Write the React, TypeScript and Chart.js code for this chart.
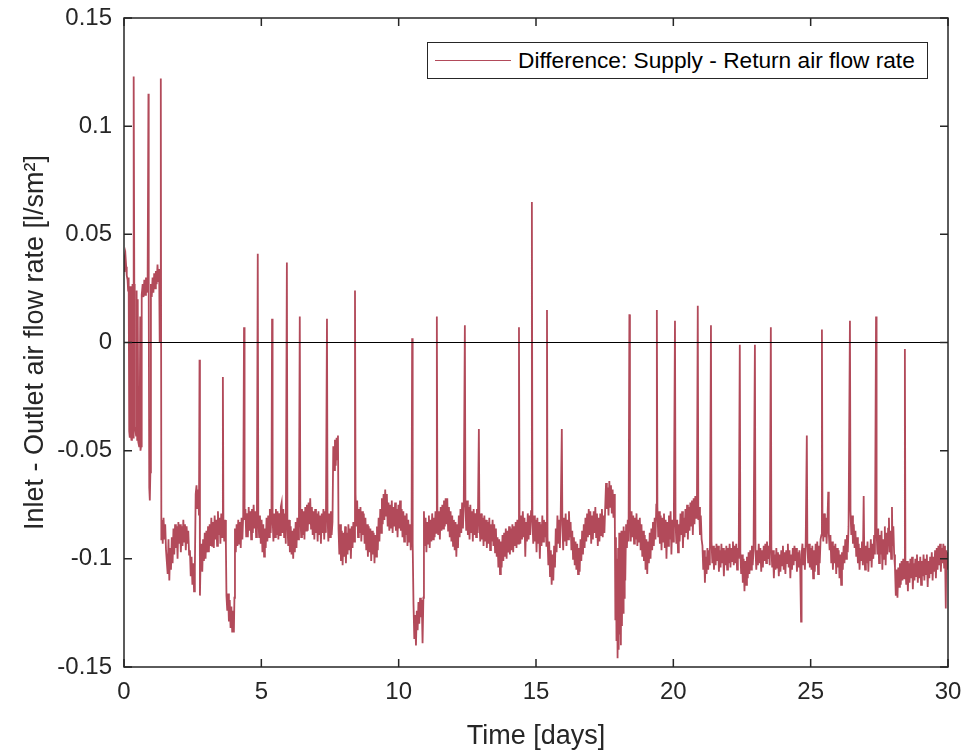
import React, { useEffect, useRef } from "react";
import { Chart, registerables } from "chart.js";

Chart.register(...registerables);

// ---------- data (time in days, value in l/(s·m²)) ----------
const seriesLabel = "Difference: Supply - Return air flow rate";
const xAxisTitle = "Time [days]";
const yAxisTitle = "Inlet - Outlet air flow rate [l/sm²]";

const xMin = 0;
const xMax = 30;
const xStep = 5;
const yMin = -0.15;
const yMax = 0.15;
const yStep = 0.05;

const zeroLine: [number, number][] = [[0, 0], [30, 0]];

const daysEarly: [number, number][] = [
  [0.00,0.033],[0.02,0.039],[0.05,0.041],[0.08,0.035],[0.10,0.031],[0.13,0.029],[0.15,0.024],[0.17,0.030],
  [0.19,-0.041],[0.21,-0.044],[0.23,0.026],[0.25,-0.043],[0.27,-0.045],[0.29,-0.042],[0.31,0.027],[0.33,-0.044],
  [0.345,0.029],[0.36,0.123],[0.375,0.027],[0.39,-0.039],[0.42,-0.041],[0.44,-0.043],[0.46,0.024],[0.48,-0.045],
  [0.50,0.020],[0.52,-0.046],[0.55,-0.048],[0.57,-0.045],[0.59,0.012],[0.60,-0.050],[0.62,-0.048],[0.64,-0.047],
  [0.65,0.022],[0.68,0.027],[0.71,0.021],[0.74,0.029],[0.77,0.022],[0.80,0.030],[0.83,0.023],[0.86,0.028],
  [0.89,0.115],[0.90,0.024],[0.92,-0.067],[0.94,-0.073],[0.96,-0.060],[0.98,0.027],[1.01,0.021],[1.04,0.030],
  [1.07,0.023],[1.10,0.032],[1.13,0.025],[1.16,0.033],[1.19,0.027],[1.22,0.036],[1.25,0.028],[1.28,0.034],
  [1.30,0.000],[1.32,0.030],[1.34,0.122],[1.36,-0.091]
];

const days1to5: [number, number][] = [
  [1.38,-0.082],[1.41,-0.093],[1.44,-0.081],[1.47,-0.091],[1.50,-0.084],[1.53,-0.096],[1.56,-0.096],[1.59,-0.107],
  [1.62,-0.091],[1.65,-0.110],[1.68,-0.095],[1.71,-0.105],[1.74,-0.090],[1.77,-0.102],[1.80,-0.086],[1.83,-0.098],
  [1.86,-0.084],[1.89,-0.095],[1.92,-0.085],[1.95,-0.100],[1.98,-0.083],[2.01,-0.093],[2.04,-0.084],[2.07,-0.097],
  [2.10,-0.085],[2.13,-0.094],[2.16,-0.082],[2.19,-0.092],[2.22,-0.084],[2.25,-0.096],[2.28,-0.085],[2.31,-0.093],
  [2.34,-0.087],[2.37,-0.098],[2.40,-0.096],[2.43,-0.108],[2.46,-0.099],[2.49,-0.112],[2.52,-0.102],[2.55,-0.115],
  [2.58,-0.104],[2.61,-0.070],[2.64,-0.066],[2.67,-0.077],[2.70,-0.068],[2.73,-0.080],[2.75,-0.008],[2.765,-0.117],
  [2.79,-0.099],[2.82,-0.093],[2.85,-0.106],[2.88,-0.091],[2.91,-0.101],[2.94,-0.088],[2.97,-0.100],[3.00,-0.087],
  [3.03,-0.097],[3.06,-0.085],[3.09,-0.097],[3.12,-0.084],[3.15,-0.094],[3.18,-0.081],[3.21,-0.094],[3.24,-0.083],
  [3.27,-0.095],[3.30,-0.080],[3.33,-0.091],[3.36,-0.082],[3.39,-0.094],[3.42,-0.078],[3.45,-0.089],[3.48,-0.081],
  [3.51,-0.093],[3.54,-0.079],[3.57,-0.090],[3.60,-0.016],[3.62,-0.084],[3.65,-0.092],[3.68,-0.082],[3.71,-0.094],
  [3.73,-0.117],[3.76,-0.124],[3.79,-0.116],[3.82,-0.129],[3.85,-0.119],[3.88,-0.132],[3.91,-0.122],[3.94,-0.134],
  [3.97,-0.124],[4.00,-0.134],[4.02,-0.118],[4.04,-0.086],[4.07,-0.097],[4.10,-0.084],[4.13,-0.094],[4.16,-0.082],
  [4.19,-0.093],[4.22,-0.083],[4.25,-0.095],[4.28,-0.081],[4.31,-0.091],[4.34,-0.080],[4.37,0.007],[4.39,-0.082],
  [4.42,-0.077],[4.45,-0.090],[4.48,-0.079],[4.51,-0.090],[4.54,-0.076],[4.57,-0.087],[4.60,-0.078],[4.63,-0.091],
  [4.66,-0.077],[4.69,-0.088],[4.72,-0.075],[4.75,-0.086],[4.78,-0.078],[4.81,-0.090],[4.84,-0.077],[4.87,0.041],
  [4.89,-0.081],[4.92,-0.090],[4.95,-0.080],[4.98,-0.093]
];

const days5to10: [number, number][] = [
  [5.01,-0.082],[5.04,-0.097],[5.07,-0.084],[5.10,-0.099],[5.13,-0.086],[5.16,-0.095],[5.19,-0.081],[5.22,-0.092],
  [5.25,-0.080],[5.28,-0.090],[5.31,-0.077],[5.34,-0.088],[5.37,-0.078],[5.39,0.011],[5.41,-0.081],[5.44,-0.092],
  [5.47,-0.079],[5.50,-0.090],[5.53,-0.077],[5.56,-0.089],[5.59,-0.078],[5.62,-0.091],[5.65,-0.079],[5.68,-0.089],
  [5.71,-0.076],[5.74,-0.074],[5.77,-0.088],[5.80,-0.077],[5.83,-0.090],[5.86,-0.079],[5.89,-0.093],[5.93,0.037],
  [5.95,-0.084],[5.98,-0.094],[6.01,-0.082],[6.04,-0.097],[6.07,-0.085],[6.10,-0.098],[6.13,-0.087],[6.16,-0.100],
  [6.19,-0.086],[6.22,-0.097],[6.25,-0.083],[6.28,-0.095],[6.31,-0.081],[6.34,-0.091],[6.37,-0.080],[6.40,0.012],
  [6.42,-0.079],[6.45,-0.090],[6.48,-0.077],[6.51,-0.089],[6.54,-0.078],[6.57,-0.091],[6.60,-0.076],[6.63,-0.087],
  [6.66,-0.075],[6.69,-0.087],[6.72,-0.074],[6.75,-0.084],[6.78,-0.072],[6.81,-0.086],[6.84,-0.076],[6.87,-0.089],
  [6.90,-0.078],[6.93,-0.091],[6.96,-0.077],[6.99,-0.088],[7.02,-0.079],[7.05,-0.092],[7.08,-0.078],[7.11,-0.089],
  [7.14,-0.080],[7.17,-0.093],[7.20,-0.079],[7.23,-0.088],[7.26,-0.077],[7.29,-0.091],[7.32,-0.078],[7.35,-0.088],
  [7.39,0.011],[7.41,-0.080],[7.44,-0.092],[7.47,-0.079],[7.50,-0.090],[7.53,-0.078],[7.56,-0.089],[7.59,-0.083],
  [7.62,-0.048],[7.65,-0.059],[7.68,-0.045],[7.71,-0.057],[7.74,-0.044],[7.77,-0.054],[7.79,-0.043],[7.81,-0.086],
  [7.84,-0.098],[7.87,-0.084],[7.90,-0.101],[7.93,-0.087],[7.96,-0.103],[7.99,-0.088],[8.02,-0.099],[8.05,-0.085],
  [8.08,-0.102],[8.11,-0.088],[8.14,-0.098],[8.17,-0.084],[8.20,-0.096],[8.23,-0.086],[8.26,-0.100],[8.29,-0.085],
  [8.32,-0.095],[8.35,-0.083],[8.38,-0.092],[8.41,0.024],[8.43,-0.070],[8.46,-0.085],[8.49,-0.073],[8.52,-0.090],
  [8.55,-0.077],[8.58,-0.088],[8.61,-0.076],[8.64,-0.092],[8.67,-0.078],[8.70,-0.089],[8.73,-0.079],[8.76,-0.093],
  [8.79,-0.081],[8.82,-0.096],[8.85,-0.084],[8.88,-0.099],[8.91,-0.085],[8.94,-0.097],[8.97,-0.086],[9.00,-0.101],
  [9.03,-0.087],[9.06,-0.098],[9.09,-0.088],[9.12,-0.102],[9.15,-0.089],[9.18,-0.099],[9.21,-0.085],[9.24,-0.096],
  [9.27,-0.081],[9.30,-0.092],[9.33,-0.077],[9.36,-0.088],[9.39,-0.072],[9.42,-0.084],[9.45,-0.070],[9.48,-0.082],
  [9.51,-0.068],[9.54,-0.080],[9.57,-0.070],[9.60,-0.085],[9.63,-0.074],[9.66,-0.087],[9.69,-0.075],[9.72,-0.086],
  [9.75,-0.073],[9.78,-0.088],[9.81,-0.076],[9.84,-0.085],[9.87,-0.074],[9.90,-0.087],[9.93,-0.077],[9.96,-0.090],
  [9.99,-0.075],[10.02,-0.086],[10.05,-0.073],[10.08,-0.087],[10.11,-0.077],[10.14,-0.090],[10.17,-0.078],[10.20,-0.092],
  [10.23,-0.080],[10.26,-0.089],[10.29,-0.079],[10.32,-0.094],[10.35,-0.082],[10.38,-0.092],[10.41,-0.084],[10.44,-0.096],
  [10.47,-0.086]
];

const days10to15: [number, number][] = [
  [10.49,0.002],[10.51,-0.093],[10.54,-0.121],[10.57,-0.137],[10.60,-0.126],[10.63,-0.140],[10.66,-0.124],[10.69,-0.133],
  [10.72,-0.120],[10.75,-0.130],[10.78,-0.118],[10.81,-0.127],[10.84,-0.119],[10.87,-0.139],[10.90,-0.118],[10.92,-0.078],
  [10.95,-0.094],[10.98,-0.081],[11.01,-0.097],[11.04,-0.083],[11.07,-0.093],[11.10,-0.080],[11.13,-0.095],[11.16,-0.082],
  [11.19,-0.092],[11.22,-0.079],[11.25,-0.091],[11.28,-0.081],[11.31,-0.090],[11.34,-0.078],[11.37,-0.088],[11.39,0.012],
  [11.41,-0.077],[11.44,-0.089],[11.47,-0.078],[11.50,-0.091],[11.53,-0.076],[11.56,-0.087],[11.59,-0.075],[11.62,-0.086],
  [11.65,-0.073],[11.68,-0.085],[11.71,-0.072],[11.74,-0.084],[11.77,-0.072],[11.80,-0.087],[11.83,-0.076],[11.86,-0.090],
  [11.89,-0.078],[11.92,-0.092],[11.95,-0.080],[11.98,-0.094],[12.01,-0.082],[12.04,-0.096],[12.07,-0.083],[12.10,-0.099],
  [12.13,-0.084],[12.16,-0.095],[12.19,-0.080],[12.22,-0.090],[12.25,-0.077],[12.28,-0.088],[12.31,-0.074],[12.34,-0.086],
  [12.37,-0.075],[12.41,0.008],[12.43,-0.074],[12.46,-0.087],[12.49,-0.073],[12.52,-0.089],[12.55,-0.076],[12.58,-0.091],
  [12.61,-0.075],[12.64,-0.088],[12.67,-0.078],[12.70,-0.092],[12.73,-0.077],[12.76,-0.089],[12.79,-0.079],[12.82,-0.090],
  [12.85,-0.077],[12.88,-0.088],[12.92,-0.040],[12.94,-0.082],[12.97,-0.092],[13.00,-0.079],[13.03,-0.091],[13.06,-0.081],
  [13.09,-0.094],[13.12,-0.080],[13.15,-0.092],[13.18,-0.082],[13.21,-0.095],[13.24,-0.083],[13.27,-0.093],[13.30,-0.081],
  [13.33,-0.096],[13.36,-0.084],[13.39,-0.092],[13.42,-0.082],[13.45,-0.094],[13.48,-0.084],[13.51,-0.097],[13.54,-0.086],
  [13.57,-0.099],[13.60,-0.090],[13.63,-0.104],[13.66,-0.091],[13.69,-0.107],[13.72,-0.092],[13.75,-0.104],[13.78,-0.089],
  [13.81,-0.101],[13.84,-0.088],[13.87,-0.099],[13.90,-0.086],[13.93,-0.100],[13.96,-0.087],[13.99,-0.097],[14.02,-0.085],
  [14.05,-0.098],[14.08,-0.086],[14.11,-0.096],[14.14,-0.084],[14.17,-0.097],[14.20,-0.085],[14.23,-0.094],[14.26,-0.083],
  [14.29,-0.095],[14.32,-0.082],[14.35,-0.093],[14.38,0.007],[14.40,-0.081],[14.43,-0.093],[14.46,-0.080],[14.49,-0.091],
  [14.52,-0.078],[14.55,-0.090],[14.58,-0.081],[14.61,-0.099],[14.64,-0.083],[14.67,-0.092],[14.70,-0.079],[14.73,-0.091],
  [14.76,-0.080],[14.79,-0.089],[14.82,-0.078],[14.85,0.065],[14.87,-0.082],[14.90,-0.093],[14.93,-0.080],[14.96,-0.092],
  [14.99,-0.082],[15.02,-0.097],[15.05,-0.081],[15.08,-0.093],[15.11,-0.083],[15.14,-0.100],[15.17,-0.084],[15.20,-0.094],
  [15.23,-0.080],[15.26,-0.092],[15.29,-0.082],[15.32,-0.090]
];

const days15to20: [number, number][] = [
  [15.35,-0.083],[15.38,-0.094],[15.40,0.015],[15.42,-0.090],[15.45,-0.103],[15.48,-0.092],[15.51,-0.108],[15.54,-0.096],
  [15.57,-0.112],[15.60,-0.098],[15.63,-0.110],[15.66,-0.094],[15.69,-0.104],[15.72,-0.086],[15.75,-0.097],[15.78,-0.080],
  [15.81,-0.093],[15.84,-0.082],[15.87,-0.095],[15.90,-0.079],[15.94,-0.040],[15.96,-0.084],[15.99,-0.096],[16.02,-0.081],
  [16.05,-0.092],[16.08,-0.079],[16.11,-0.094],[16.14,-0.082],[16.17,-0.091],[16.20,-0.078],[16.23,-0.090],[16.26,-0.083],
  [16.29,-0.096],[16.32,-0.087],[16.35,-0.100],[16.38,-0.090],[16.41,-0.103],[16.44,-0.092],[16.47,-0.105],[16.50,-0.093],
  [16.53,-0.107],[16.56,-0.095],[16.59,-0.106],[16.62,-0.091],[16.65,-0.101],[16.68,-0.087],[16.71,-0.098],[16.74,-0.084],
  [16.77,-0.095],[16.80,-0.081],[16.83,-0.092],[16.86,-0.079],[16.89,-0.090],[16.92,-0.077],[16.95,-0.089],[16.98,-0.078],
  [17.01,-0.093],[17.04,-0.080],[17.07,-0.091],[17.10,-0.078],[17.13,-0.088],[17.16,-0.076],[17.19,-0.090],[17.22,-0.079],
  [17.25,-0.094],[17.28,-0.081],[17.31,-0.092],[17.34,-0.079],[17.37,-0.089],[17.40,-0.077],[17.43,-0.090],[17.46,-0.080],
  [17.49,-0.088],[17.52,-0.076],[17.55,-0.065],[17.58,-0.077],[17.61,-0.067],[17.64,-0.080],[17.67,-0.064],[17.70,-0.076],
  [17.73,-0.066],[17.76,-0.079],[17.79,-0.068],[17.82,-0.081],[17.85,-0.070],[17.87,-0.082],[17.89,-0.128],[17.91,-0.090],
  [17.93,-0.138],[17.95,-0.100],[17.97,-0.146],[17.99,-0.095],[18.01,-0.142],[18.03,-0.088],[18.05,-0.135],[18.07,-0.092],
  [18.09,-0.140],[18.11,-0.087],[18.13,-0.131],[18.15,-0.090],[18.17,-0.125],[18.19,-0.085],[18.21,-0.118],[18.23,-0.087],
  [18.25,-0.110],[18.28,-0.084],[18.31,-0.095],[18.34,-0.082],[18.37,-0.092],[18.40,0.013],[18.42,-0.080],[18.45,-0.092],
  [18.48,-0.078],[18.51,-0.090],[18.54,-0.080],[18.57,-0.093],[18.60,-0.081],[18.63,-0.091],[18.66,-0.079],[18.69,-0.094],
  [18.72,-0.082],[18.75,-0.092],[18.78,-0.081],[18.81,-0.096],[18.84,-0.084],[18.87,-0.099],[18.90,-0.087],[18.93,-0.101],
  [18.96,-0.089],[18.99,-0.105],[19.02,-0.091],[19.05,-0.107],[19.08,-0.092],[19.11,-0.102],[19.14,-0.088],[19.17,-0.100],
  [19.20,-0.086],[19.23,-0.096],[19.26,-0.083],[19.29,-0.094],[19.32,-0.081],[19.35,-0.091],[19.38,-0.075],[19.40,0.015],
  [19.42,-0.076],[19.45,-0.090],[19.48,-0.078],[19.51,-0.093],[19.54,-0.080],[19.57,-0.096],[19.60,-0.081],[19.63,-0.092],
  [19.66,-0.079],[19.69,-0.095],[19.72,-0.082],[19.75,-0.100],[19.78,-0.083],[19.81,-0.094],[19.84,-0.080],[19.87,-0.091],
  [19.90,-0.078],[19.93,-0.098],[19.96,-0.082],[19.99,-0.092],[20.02,-0.079],[20.06,0.010],[20.08,-0.083]
];

const days20to25: [number, number][] = [
  [20.11,-0.093],[20.14,-0.082],[20.17,-0.097],[20.20,-0.084],[20.23,-0.092],[20.26,-0.079],[20.29,-0.089],[20.32,-0.078],
  [20.35,-0.095],[20.38,-0.081],[20.41,-0.090],[20.44,-0.077],[20.47,-0.088],[20.50,-0.075],[20.53,-0.091],[20.56,-0.076],
  [20.59,-0.087],[20.62,-0.074],[20.65,-0.085],[20.68,-0.073],[20.71,-0.089],[20.74,-0.072],[20.77,-0.084],[20.80,-0.071],
  [20.83,-0.081],[20.86,-0.073],[20.89,0.017],[20.91,-0.082],[20.94,-0.076],[20.97,-0.089],[21.00,-0.080],[21.03,-0.091],
  [21.06,-0.094],[21.09,-0.105],[21.12,-0.096],[21.15,-0.111],[21.18,-0.099],[21.21,-0.107],[21.24,-0.095],[21.27,-0.105],
  [21.30,-0.096],[21.33,-0.103],[21.37,0.008],[21.39,-0.092],[21.42,-0.102],[21.45,-0.094],[21.48,-0.105],[21.51,-0.095],
  [21.54,-0.103],[21.57,-0.093],[21.60,-0.101],[21.63,-0.094],[21.66,-0.106],[21.69,-0.096],[21.72,-0.104],[21.75,-0.093],
  [21.78,-0.102],[21.81,-0.095],[21.84,-0.108],[21.87,-0.096],[21.90,-0.103],[21.93,-0.094],[21.96,-0.105],[21.99,-0.095],
  [22.02,-0.102],[22.05,-0.093],[22.08,-0.104],[22.11,-0.095],[22.14,-0.101],[22.17,-0.092],[22.20,-0.103],[22.23,-0.094],
  [22.26,-0.102],[22.29,-0.093],[22.32,-0.105],[22.35,-0.095],[22.38,-0.100],[22.42,-0.001],[22.44,-0.097],[22.47,-0.107],
  [22.50,-0.098],[22.53,-0.111],[22.56,-0.100],[22.59,-0.115],[22.62,-0.101],[22.65,-0.112],[22.68,-0.099],[22.71,-0.109],
  [22.74,-0.097],[22.77,-0.107],[22.80,-0.096],[22.83,-0.105],[22.86,-0.094],[22.89,-0.103],[22.92,-0.096],[22.97,-0.001],
  [22.99,-0.095],[23.02,-0.105],[23.05,-0.096],[23.08,-0.103],[23.11,-0.093],[23.14,-0.102],[23.17,-0.095],[23.20,-0.106],
  [23.23,-0.096],[23.26,-0.104],[23.29,-0.094],[23.32,-0.101],[23.35,-0.093],[23.38,-0.102],[23.41,-0.092],[23.44,-0.100],
  [23.47,-0.094],[23.51,-0.103],[23.55,0.007],[23.57,-0.095],[23.60,-0.104],[23.63,-0.096],[23.66,-0.109],[23.69,-0.098],
  [23.72,-0.105],[23.75,-0.095],[23.78,-0.104],[23.81,-0.097],[23.84,-0.108],[23.87,-0.098],[23.90,-0.106],[23.93,-0.096],
  [23.96,-0.103],[23.99,-0.094],[24.02,-0.105],[24.05,-0.097],[24.08,-0.107],[24.11,-0.096],[24.14,-0.102],[24.17,-0.093],
  [24.20,-0.104],[24.23,-0.096],[24.26,-0.109],[24.29,-0.098],[24.32,-0.105],[24.35,-0.095],[24.38,-0.103],[24.41,-0.094],
  [24.44,-0.101],[24.47,-0.095],[24.50,-0.106],[24.53,-0.097],[24.56,-0.104],[24.59,-0.096],[24.62,-0.105],[24.65,-0.129],
  [24.67,-0.098],[24.70,-0.093],[24.73,-0.103],[24.76,-0.095],[24.79,-0.105],[24.82,-0.092],[24.86,-0.043],[24.88,-0.094],
  [24.91,-0.102],[24.94,-0.093],[24.97,-0.104],[25.00,-0.095]
];

const days25to30: [number, number][] = [
  [25.03,-0.105],[25.06,-0.094],[25.09,-0.109],[25.12,-0.096],[25.15,-0.106],[25.18,-0.093],[25.21,-0.103],[25.24,-0.092],
  [25.27,-0.107],[25.30,-0.094],[25.33,-0.102],[25.36,-0.091],[25.39,-0.089],[25.41,0.006],[25.43,-0.082],[25.46,-0.092],
  [25.49,-0.079],[25.52,-0.090],[25.55,-0.081],[25.58,-0.093],[25.61,-0.083],[25.64,-0.069],[25.66,-0.088],[25.69,-0.096],
  [25.72,-0.089],[25.75,-0.102],[25.78,-0.092],[25.81,-0.105],[25.84,-0.094],[25.87,-0.102],[25.90,-0.093],[25.93,-0.107],
  [25.96,-0.095],[25.99,-0.104],[26.02,-0.096],[26.05,-0.109],[26.08,-0.098],[26.11,-0.112],[26.14,-0.097],[26.17,-0.105],
  [26.20,-0.094],[26.23,-0.102],[26.26,-0.091],[26.29,-0.100],[26.32,-0.089],[26.35,-0.097],[26.38,-0.085],[26.43,0.010],
  [26.45,-0.078],[26.48,-0.089],[26.51,-0.080],[26.54,-0.093],[26.57,-0.084],[26.60,-0.095],[26.63,-0.087],[26.66,-0.099],
  [26.69,-0.090],[26.72,-0.102],[26.75,-0.093],[26.78,-0.105],[26.81,-0.095],[26.84,-0.101],[26.87,-0.092],[26.90,-0.103],
  [26.93,-0.071],[26.95,-0.097],[26.98,-0.105],[27.01,-0.094],[27.04,-0.102],[27.07,-0.092],[27.10,-0.106],[27.13,-0.095],
  [27.16,-0.101],[27.19,-0.091],[27.22,-0.104],[27.25,-0.093],[27.28,-0.100],[27.31,-0.089],[27.34,-0.098],[27.38,0.012],
  [27.40,-0.087],[27.43,-0.098],[27.46,-0.086],[27.49,-0.102],[27.52,-0.089],[27.55,-0.098],[27.58,-0.087],[27.61,-0.105],
  [27.64,-0.091],[27.67,-0.100],[27.70,-0.085],[27.73,-0.103],[27.76,-0.088],[27.79,-0.098],[27.82,-0.086],[27.85,-0.081],
  [27.87,-0.097],[27.90,-0.087],[27.93,-0.100],[27.96,-0.076],[27.98,-0.094],[28.01,-0.085],[28.04,-0.098],[28.07,-0.104],
  [28.10,-0.117],[28.13,-0.105],[28.16,-0.118],[28.19,-0.104],[28.22,-0.113],[28.25,-0.102],[28.28,-0.112],[28.31,-0.101],
  [28.34,-0.110],[28.37,-0.100],[28.40,-0.109],[28.43,-0.003],[28.45,-0.103],[28.48,-0.112],[28.51,-0.101],[28.54,-0.115],
  [28.57,-0.102],[28.60,-0.111],[28.63,-0.100],[28.66,-0.109],[28.69,-0.099],[28.72,-0.114],[28.75,-0.102],[28.78,-0.110],
  [28.81,-0.100],[28.84,-0.108],[28.87,-0.098],[28.90,-0.111],[28.93,-0.101],[28.96,-0.109],[28.99,-0.099],[29.02,-0.112],
  [29.05,-0.101],[29.08,-0.108],[29.11,-0.098],[29.14,-0.110],[29.17,-0.100],[29.20,-0.107],[29.23,-0.098],[29.26,-0.113],
  [29.29,-0.101],[29.32,-0.109],[29.35,-0.099],[29.38,-0.107],[29.41,-0.097],[29.44,-0.110],[29.47,-0.099],[29.50,-0.106],
  [29.53,-0.096],[29.56,-0.109],[29.59,-0.095],[29.62,-0.105],[29.65,-0.094],[29.68,-0.103],[29.71,-0.093],[29.74,-0.106],
  [29.77,-0.095],[29.80,-0.102],[29.83,-0.093],[29.86,-0.104],[29.89,-0.094],[29.92,-0.123],[29.94,-0.096],[29.97,-0.105],
  [30.00,-0.097]
];

// ---------- styling ----------
const FONT = "'Liberation Sans', Arial, Helvetica, sans-serif";
const LINE_COLOR = "#B24A5A";
const AXIS_COLOR = "#262626";
const W = 968;
const H = 756;
const TARGET_AREA = { left: 124, top: 18, right: 948, bottom: 667 };

const boxTicksPlugin = {
  id: "boxTicks",
  afterDraw(chart: any) {
    const { ctx, chartArea: a, scales } = chart;
    const len = 8;
    ctx.save();
    ctx.strokeStyle = AXIS_COLOR;
    ctx.lineWidth = 1.5;
    ctx.strokeRect(a.left, a.top, a.right - a.left, a.bottom - a.top);
    ctx.beginPath();
    scales.x.ticks.forEach((t: any) => {
      const px = scales.x.getPixelForValue(t.value);
      ctx.moveTo(px, a.bottom);
      ctx.lineTo(px, a.bottom - len);
      ctx.moveTo(px, a.top);
      ctx.lineTo(px, a.top + len);
    });
    scales.y.ticks.forEach((t: any) => {
      const py = scales.y.getPixelForValue(t.value);
      ctx.moveTo(a.left, py);
      ctx.lineTo(a.left + len, py);
      ctx.moveTo(a.right, py);
      ctx.lineTo(a.right - len, py);
    });
    ctx.stroke();
    ctx.restore();
  },
};

const toXY = (pts: [number, number][]) => pts.map(([x, y]) => ({ x, y }));

export default function App() {
  const canvasRef = useRef<HTMLCanvasElement | null>(null);

  useEffect(() => {
    if (!canvasRef.current) return;
    const series = [
      ...daysEarly,
      ...days1to5,
      ...days5to10,
      ...days10to15,
      ...days15to20,
      ...days20to25,
      ...days25to30,
    ];
    const fit = { padTop: 18, padRight: 20, xHeight: 89, yWidth: 124 };
    const chart: any = new Chart(canvasRef.current, {
      type: "line",
      data: {
        datasets: [
          {
            label: "zero",
            data: toXY(zeroLine),
            borderColor: "#000000",
            borderWidth: 1.2,
            pointRadius: 0,
            order: 0,
          },
          {
            label: seriesLabel,
            data: toXY(series),
            borderColor: LINE_COLOR,
            backgroundColor: LINE_COLOR,
            borderWidth: 1.8,
            pointRadius: 0,
            tension: 0,
            order: 1,
          },
        ],
      },
      options: {
        animation: false,
        responsive: false,
        maintainAspectRatio: false,
        layout: { padding: { top: fit.padTop, right: fit.padRight, left: 0, bottom: 0 } },
        plugins: {
          legend: { display: false },
          tooltip: { enabled: false },
        },
        scales: {
          x: {
            type: "linear",
            min: xMin,
            max: xMax,
            grid: { display: false, drawTicks: true, tickLength: 11 },
            border: { display: false },
            ticks: {
              stepSize: xStep,
              color: AXIS_COLOR,
              font: { family: FONT, size: 24 },
              padding: 0,
              maxRotation: 0,
            },
            title: {
              display: true,
              text: xAxisTitle,
              color: AXIS_COLOR,
              font: { family: FONT, size: 27 },
              padding: { top: 0, bottom: 3 },
            },
            afterFit: (s: any) => {
              s.height = fit.xHeight;
            },
          },
          y: {
            type: "linear",
            min: yMin,
            max: yMax,
            grid: { display: false, drawTicks: true, tickLength: 12 },
            border: { display: false },
            ticks: {
              stepSize: yStep,
              color: AXIS_COLOR,
              font: { family: FONT, size: 24 },
              padding: 0,
              callback: (v: any) => String(Number(Number(v).toFixed(2))),
            },
            title: {
              display: true,
              text: yAxisTitle,
              color: AXIS_COLOR,
              font: { family: FONT, size: 27 },
              padding: { top: 19, bottom: 0 },
            },
            afterFit: (s: any) => {
              s.width = fit.yWidth;
            },
          },
        },
      },
      plugins: [boxTicksPlugin],
    });

    // nudge the layout so the plot box lands where the reference has it
    for (let i = 0; i < 4; i++) {
      const a = chart.chartArea;
      const dTop = a.top - TARGET_AREA.top;
      const dRight = a.right - TARGET_AREA.right;
      const dBottom = a.bottom - TARGET_AREA.bottom;
      const dLeft = TARGET_AREA.left - a.left;
      if (Math.abs(dTop) < 0.5 && Math.abs(dRight) < 0.5 && Math.abs(dBottom) < 0.5 && Math.abs(dLeft) < 0.5) break;
      fit.padTop -= dTop;
      fit.padRight += dRight;
      fit.xHeight += dBottom;
      fit.yWidth += dLeft;
      chart.options.layout.padding = { top: fit.padTop, right: fit.padRight, left: 0, bottom: 0 };
      chart.update();
    }

    return () => chart.destroy();
  }, []);

  return (
    <div
      style={{
        position: "fixed",
        left: 0,
        top: 0,
        width: W,
        height: H,
        background: "#ffffff",
        overflow: "hidden",
      }}
    >
      <canvas ref={canvasRef} width={W} height={H} style={{ display: "block" }} />
      <div
        style={{
          position: "absolute",
          left: 427,
          top: 42,
          width: 501,
          height: 37,
          boxSizing: "border-box",
          border: `1px solid ${AXIS_COLOR}`,
          background: "#ffffff",
          display: "flex",
          alignItems: "center",
          fontFamily: FONT,
          fontSize: 22.7,
          color: "#000000",
          whiteSpace: "nowrap",
        }}
      >
        <span
          style={{
            display: "inline-block",
            width: 76,
            marginLeft: 7,
            marginRight: 7,
            borderTop: `1px solid ${LINE_COLOR}`,
          }}
        />
        <span>{seriesLabel}</span>
      </div>
    </div>
  );
}
